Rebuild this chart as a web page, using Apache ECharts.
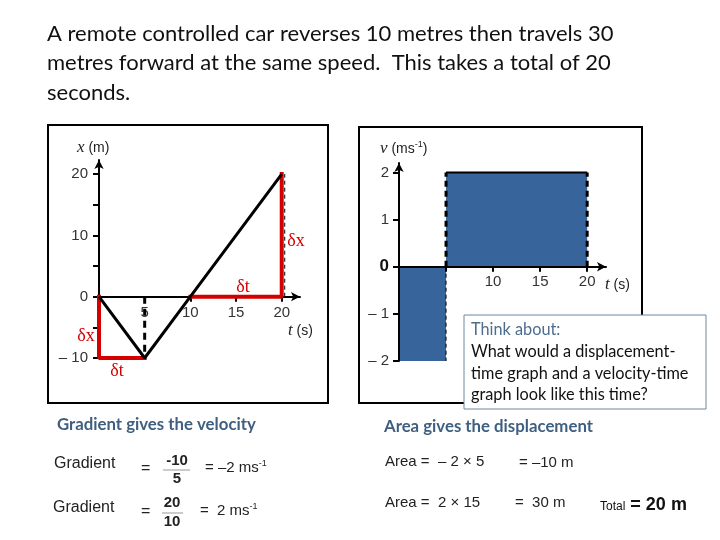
<!DOCTYPE html>
<html><head><meta charset="utf-8">
<script src="https://cdn.jsdelivr.net/npm/echarts@6/dist/echarts.min.js"></script>
<style>html,body{margin:0;padding:0;background:#fff}#c{width:720px;height:540px}</style>
</head><body><div id="c"></div>
<script>
// ---- data ----
const dispT = [0, 5, 10, 20];
const dispX = [0, -10, 0, 20];
const velStart = [0, 5];
const velEnd = [5, 20];
const velValue = [-2, 2];
const leftXTicks = [5, 10, 15, 20];
const leftXLabels = [5, 10, 15, 20];
const leftYTicks = [-10, -5, 0, 5, 10, 15, 20];
const leftYLabels = [-10, 0, 10, 20];
const rightXTicks = [5, 10, 15, 20];
const rightXLabels = [10, 15, 20];
const rightYTicks = [-2, -1, 0, 1, 2];
const rightYLabels = [-2, -1, 0, 1, 2];

const ARIAL = '"Liberation Sans", Arial, sans-serif';
const CAL = 'Lato, "Open Sans", sans-serif';
const RED = '#d40000';
const BLUE = '#36649b';
const HEAD = '#3f5f80';

const fmtNeg = v => v < 0 ? '\u2013 ' + Math.abs(v) : String(v);

const chart = echarts.init(document.getElementById('c'), null, {renderer: 'canvas'});

const triA = [[dispT[0], dispX[0]], [dispT[0], dispX[1]], [dispT[1], dispX[1]]];
const triB = [[dispT[2], dispX[2]], [dispT[3], dispX[2]], [dispT[3], dispX[3]]];

// axis extents and grid layout
const L = {left: 99, top: 160, width: 201, height: 198, xMin: 0, xMax: 22, yMin: -10, yMax: 22.3};
const R = {left: 399, top: 163, width: 207, height: 198, xMin: 0, xMax: 22, yMin: -2, yMax: 2.2};
// shift the time axis up to the zero line (labels and ticks move with it)
const zeroOffset = g => -((0 - g.yMin) / (g.yMax - g.yMin)) * g.height;

function axisCommon(extra) {
  return Object.assign({
    type: 'value',
    splitLine: {show: false},
    axisLine: {show: true, onZero: false, symbol: ['none', 'arrow'], symbolSize: [7, 9],
      lineStyle: {color: '#000', width: 2}},
    axisTick: {show: true, length: 5, lineStyle: {color: '#000', width: 2}},
    axisLabel: {color: '#333', fontFamily: ARIAL, fontSize: 15}
  }, extra);
}

const option = {
  backgroundColor: '#fff',
  animation: false,
  grid: [
    {left: L.left, top: L.top, width: L.width, height: L.height},
    {left: R.left, top: R.top, width: R.width, height: R.height}
  ],
  xAxis: [
    axisCommon({gridIndex: 0, min: L.xMin, max: L.xMax, offset: zeroOffset(L),
      axisTick: {show: true, length: 5, customValues: leftXTicks, lineStyle: {color: '#000', width: 2}},
      axisLabel: {customValues: leftXLabels, color: '#333', fontFamily: ARIAL, fontSize: 15, margin: 9}}),
    axisCommon({gridIndex: 1, min: R.xMin, max: R.xMax, z: 5, offset: zeroOffset(R),
      axisTick: {show: true, length: 5, customValues: rightXTicks, lineStyle: {color: '#000', width: 2}},
      axisLabel: {customValues: rightXLabels, color: '#333', fontFamily: ARIAL, fontSize: 15, margin: 8}})
  ],
  yAxis: [
    axisCommon({gridIndex: 0, min: L.yMin, max: L.yMax,
      axisTick: {show: true, length: 6, customValues: leftYTicks, lineStyle: {color: '#000', width: 2}},
      axisLabel: {customValues: leftYLabels, formatter: fmtNeg, color: '#333', fontFamily: ARIAL, fontSize: 15, margin: 11}}),
    axisCommon({gridIndex: 1, min: R.yMin, max: R.yMax, z: 5,
      axisTick: {show: true, length: 6, customValues: rightYTicks, lineStyle: {color: '#000', width: 2}},
      axisLabel: {customValues: rightYLabels, margin: 10,
        formatter: v => v === 0 ? '{z|0}' : fmtNeg(v),
        color: '#333', fontFamily: ARIAL, fontSize: 15,
        rich: {z: {fontFamily: ARIAL, fontSize: 17, fontWeight: 'bold', color: '#111'}}}})
  ],
  series: [
    {type: 'line', xAxisIndex: 0, yAxisIndex: 0, symbol: 'none', z: 3,
      data: [[dispT[1], dispX[0]], [dispT[1], dispX[1]]],
      lineStyle: {color: '#000', width: 3, type: [7, 5]}},
    {type: 'custom', xAxisIndex: 0, yAxisIndex: 0, z: 3,
      data: [[dispT[3], dispX[2], dispX[3]]],
      renderItem: function (params, api) {
        const a = api.coord([api.value(0), api.value(1)]);
        const b = api.coord([api.value(0), api.value(2)]);
        return {type: 'line', shape: {x1: a[0] + 3, y1: a[1], x2: b[0] + 3, y2: b[1]},
          style: {stroke: '#000', lineWidth: 1, lineDash: [4, 3]}};
      }},
    {type: 'line', xAxisIndex: 0, yAxisIndex: 0, symbol: 'none', z: 4, data: triA,
      lineStyle: {color: RED, width: 4, cap: 'square'}},
    {type: 'line', xAxisIndex: 0, yAxisIndex: 0, symbol: 'none', z: 4, data: triB,
      lineStyle: {color: RED, width: 4, cap: 'square'}},
    {type: 'line', xAxisIndex: 0, yAxisIndex: 0, symbol: 'none', z: 5,
      data: dispT.map((t, i) => [t, dispX[i]]),
      lineStyle: {color: '#000', width: 3}},
    {type: 'custom', xAxisIndex: 1, yAxisIndex: 1, z: 2,
      data: velStart.map((s, i) => [s, velEnd[i], velValue[i]]),
      renderItem: function (params, api) {
        const p0 = api.coord([api.value(0), api.value(2)]);
        const p1 = api.coord([api.value(1), 0]);
        return {type: 'rect',
          shape: {x: Math.min(p0[0], p1[0]), y: Math.min(p0[1], p1[1]),
            width: Math.abs(p1[0] - p0[0]), height: Math.abs(p1[1] - p0[1])},
          style: {fill: BLUE}};
      }},
    {type: 'line', xAxisIndex: 1, yAxisIndex: 1, symbol: 'none', z: 3,
      data: [[velStart[1], velValue[1]], [velEnd[1], velValue[1]]],
      lineStyle: {color: '#000', width: 2}},
    {type: 'line', xAxisIndex: 1, yAxisIndex: 1, symbol: 'none', z: 3,
      data: [[velStart[1], 0], [velStart[1], velValue[1]]],
      lineStyle: {color: '#000', width: 3, type: [6, 4]}},
    {type: 'line', xAxisIndex: 1, yAxisIndex: 1, symbol: 'none', z: 3,
      data: [[velEnd[1], 0], [velEnd[1], velValue[1]]],
      lineStyle: {color: '#000', width: 3, type: [6, 4]}},
    {type: 'line', xAxisIndex: 1, yAxisIndex: 1, symbol: 'none', z: 3,
      data: [[velEnd[0], 0], [velEnd[0], velValue[0]]],
      lineStyle: {color: '#000', width: 1, type: [4, 3]}}
  ],
  graphic: [
    {type: 'rect', z: -1, shape: {x: 48, y: 125, width: 280, height: 278}, style: {fill: 'none', stroke: '#000', lineWidth: 2}},
    {type: 'rect', z: -1, shape: {x: 359, y: 127, width: 283, height: 276}, style: {fill: 'none', stroke: '#000', lineWidth: 2}},
    {type: 'text', left: 47, top: 19, z: 10, style: {
      text: 'A remote controlled car reverses 10 metres then travels 30\nmetres forward at the same speed.  This takes a total of 20\nseconds.',
      fontFamily: CAL, fontSize: 22, lineHeight: 29.5, fill: '#111'}},
    {type: 'text', x: 77, y: 148, z: 10, style: {text: '{i|x} (m)', fontFamily: ARIAL, fontSize: 14, fill: '#222', verticalAlign: 'middle',
      rich: {i: {fontFamily: '"Liberation Serif", serif', fontStyle: 'italic', fontSize: 17, fill: '#222'}}}},
    {type: 'text', x: 288, y: 331, z: 10, style: {text: '{i|t} (s)', fontFamily: ARIAL, fontSize: 14, fill: '#222', verticalAlign: 'middle',
      rich: {i: {fontFamily: '"Liberation Serif", serif', fontStyle: 'italic', fontSize: 17, fill: '#222'}}}},
    {type: 'text', x: 380, y: 149, z: 10, style: {text: '{i|v} (ms{s|-1})', fontFamily: ARIAL, fontSize: 14, fill: '#222', verticalAlign: 'middle',
      rich: {i: {fontFamily: '"Liberation Serif", serif', fontStyle: 'italic', fontSize: 17, fill: '#222'},
        s: {fontFamily: ARIAL, fontSize: 9, verticalAlign: 'top', fill: '#222', padding: [0, 0, 8, 0]}}}},
    {type: 'text', x: 605, y: 285, z: 10, style: {text: '{i|t} (s)', fontFamily: ARIAL, fontSize: 14, fill: '#222', verticalAlign: 'middle',
      rich: {i: {fontFamily: '"Liberation Serif", serif', fontStyle: 'italic', fontSize: 17, fill: '#222'}}}},
    {type: 'text', x: 86, y: 336, z: 10, style: {text: '\u03b4x', fontFamily: '"Liberation Serif", serif', fontSize: 18, fill: RED, align: 'center', verticalAlign: 'middle'}},
    {type: 'text', x: 117, y: 371, z: 10, style: {text: '\u03b4t', fontFamily: '"Liberation Serif", serif', fontSize: 18, fill: RED, align: 'center', verticalAlign: 'middle'}},
    {type: 'text', x: 296, y: 241, z: 10, style: {text: '\u03b4x', fontFamily: '"Liberation Serif", serif', fontSize: 18, fill: RED, align: 'center', verticalAlign: 'middle'}},
    {type: 'text', x: 243, y: 287, z: 10, style: {text: '\u03b4t', fontFamily: '"Liberation Serif", serif', fontSize: 18, fill: RED, align: 'center', verticalAlign: 'middle'}},
    {type: 'rect', z: 20, shape: {x: 464, y: 315, width: 242, height: 94}, style: {fill: '#fff', stroke: '#6d87a0', lineWidth: 1}},
    {type: 'text', left: 471, top: 319, z: 21, style: {
      text: '{h|Think about:}\nWhat would a displacement-\ntime graph and a velocity-time\ngraph look like this time?',
      fontFamily: CAL, fontSize: 16.3, lineHeight: 21.7, fill: '#111',
      rich: {h: {fontFamily: CAL, fontSize: 16.3, lineHeight: 21.7, fill: '#4d6d8d'}}}},
    {type: 'text', x: 57, y: 425, z: 10, style: {text: 'Gradient gives the velocity', fontFamily: CAL, fontSize: 16.8, fontWeight: 'bold', fill: HEAD, verticalAlign: 'middle'}},
    {type: 'text', x: 384, y: 427, z: 10, style: {text: 'Area gives the displacement', fontFamily: CAL, fontSize: 16.8, fontWeight: 'bold', fill: HEAD, verticalAlign: 'middle'}},
    {type: 'text', x: 54, y: 464, z: 10, style: {text: 'Gradient', fontFamily: ARIAL, fontSize: 16, fill: '#222', verticalAlign: 'middle'}},
    {type: 'text', x: 141, y: 469, z: 10, style: {text: '=', fontFamily: ARIAL, fontSize: 16, fill: '#222', verticalAlign: 'middle'}},
    {type: 'text', x: 177, y: 461, z: 10, style: {text: '-10', fontFamily: ARIAL, fontSize: 15, fontWeight: 'bold', fill: '#222', align: 'center', verticalAlign: 'middle'}},
    {type: 'line', z: 10, shape: {x1: 163, y1: 470, x2: 190, y2: 470}, style: {stroke: '#999', lineWidth: 1}},
    {type: 'text', x: 177, y: 479, z: 10, style: {text: '5', fontFamily: ARIAL, fontSize: 15, fontWeight: 'bold', fill: '#222', align: 'center', verticalAlign: 'middle'}},
    {type: 'text', x: 205, y: 468, z: 10, style: {text: '= \u20132 ms{s|-1}', fontFamily: ARIAL, fontSize: 15, fill: '#222', verticalAlign: 'middle',
      rich: {s: {fontFamily: ARIAL, fontSize: 9, fill: '#222', padding: [0, 0, 8, 0]}}}},
    {type: 'text', x: 53, y: 508, z: 10, style: {text: 'Gradient', fontFamily: ARIAL, fontSize: 16, fill: '#222', verticalAlign: 'middle'}},
    {type: 'text', x: 141, y: 512, z: 10, style: {text: '=', fontFamily: ARIAL, fontSize: 16, fill: '#222', verticalAlign: 'middle'}},
    {type: 'text', x: 172, y: 503, z: 10, style: {text: '20', fontFamily: ARIAL, fontSize: 15, fontWeight: 'bold', fill: '#222', align: 'center', verticalAlign: 'middle'}},
    {type: 'line', z: 10, shape: {x1: 162, y1: 513, x2: 183, y2: 513}, style: {stroke: '#999', lineWidth: 1}},
    {type: 'text', x: 172, y: 522, z: 10, style: {text: '10', fontFamily: ARIAL, fontSize: 15, fontWeight: 'bold', fill: '#222', align: 'center', verticalAlign: 'middle'}},
    {type: 'text', x: 200, y: 511, z: 10, style: {text: '=  2 ms{s|-1}', fontFamily: ARIAL, fontSize: 15, fill: '#222', verticalAlign: 'middle',
      rich: {s: {fontFamily: ARIAL, fontSize: 9, fill: '#222', padding: [0, 0, 8, 0]}}}},
    {type: 'text', x: 385, y: 462, z: 10, style: {text: 'Area =  \u2013 2 \u00d7 5', fontFamily: ARIAL, fontSize: 15, fill: '#222', verticalAlign: 'middle'}},
    {type: 'text', x: 519, y: 463, z: 10, style: {text: '= \u201310 m', fontFamily: ARIAL, fontSize: 15, fill: '#222', verticalAlign: 'middle'}},
    {type: 'text', x: 385, y: 503, z: 10, style: {text: 'Area =  2 \u00d7 15', fontFamily: ARIAL, fontSize: 15, fill: '#222', verticalAlign: 'middle'}},
    {type: 'text', x: 515, y: 503, z: 10, style: {text: '=  30 m', fontFamily: ARIAL, fontSize: 15, fill: '#222', verticalAlign: 'middle'}},
    {type: 'text', x: 600, y: 505, z: 10, style: {text: '{t|Total} = 20 m', fontFamily: ARIAL, fontSize: 18, fontWeight: 'bold', fill: '#111', verticalAlign: 'middle',
      rich: {t: {fontFamily: ARIAL, fontSize: 12, fontWeight: 'normal', fill: '#111', padding: [3, 0, 0, 0]}}}}
  ]
};
chart.setOption(option);
</script></body></html>
